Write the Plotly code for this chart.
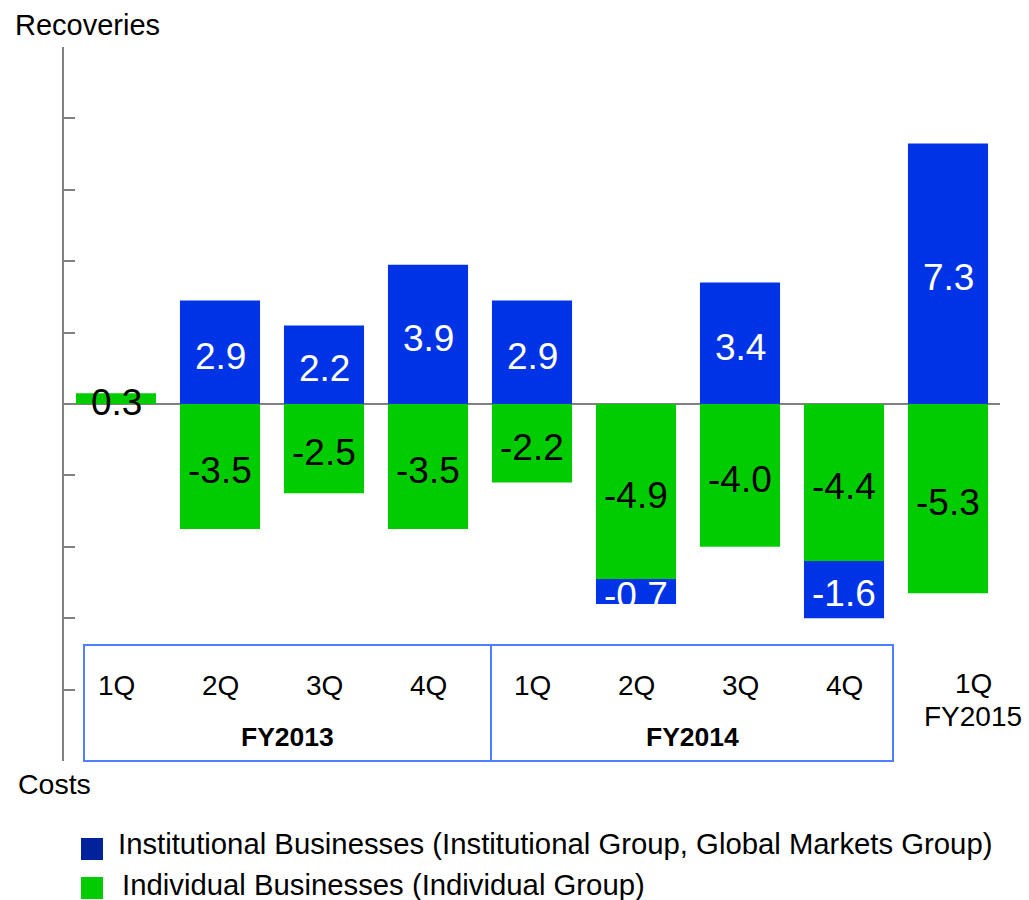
import plotly.graph_objects as go

# ---- data ----
categories = ["1Q FY2013", "2Q FY2013", "3Q FY2013", "4Q FY2013",
              "1Q FY2014", "2Q FY2014", "3Q FY2014", "4Q FY2014", "1Q FY2015"]
quarter_labels = ["1Q", "2Q", "3Q", "4Q", "1Q", "2Q", "3Q", "4Q", "1Q"]
institutional = [None, 2.9, 2.2, 3.9, 2.9, -0.7, 3.4, -1.6, 7.3]
individual = [0.3, -3.5, -2.5, -3.5, -2.2, -4.9, -4.0, -4.4, -5.3]
fiscal_years = ["FY2013", "FY2014", "FY2015"]
legend_names = ["Institutional Businesses (Institutional Group, Global Markets Group)",
                "Individual Businesses (Individual Group)"]

FONT = "Liberation Sans, Arial, sans-serif"
BLUE = "#0033E6"
BLUE_LEG = "#00229A"
GREEN = "#00CC00"
BOX = "#4F7FFF"
GRAY = "#808080"

W, H = 1029, 900
L, R, T, B = 64, 29, 47, 139
PW, PH = W - L - R, H - T - B


def px(x):
    return (x - L) / PW


def py(y):
    return (H - B - y) / PH


fig = go.Figure()

# stacking order: green first (nearest zero), blue afterwards
fig.add_trace(go.Bar(x=categories, y=individual, marker=dict(color=GREEN, line=dict(width=0)),
                     name=legend_names[1], showlegend=False, hoverinfo="skip"))
fig.add_trace(go.Bar(x=categories, y=institutional, marker=dict(color=BLUE, line=dict(width=0)),
                     name=legend_names[0], showlegend=False, hoverinfo="skip"))


def A(x, y, text, size, xref="paper", yref="paper", xanchor="center", color="black", **kw):
    d = dict(x=x, y=y, xref=xref, yref=yref, text=text, showarrow=False,
             font=dict(family=FONT, size=size, color=color),
             xanchor=xanchor, yanchor="middle")
    d.update(kw)
    return d


ann = []
# value labels at the centre of each stacked segment
for c, g, b in zip(categories, individual, institutional):
    ann.append(A(c, g / 2, f"{g:.1f}", 37, xref="x", yref="y", yshift=-4))
    if b is None:
        continue
    if b >= 0:
        base = g if g > 0 else 0
    else:
        base = g if g < 0 else 0
    ann.append(A(c, base + b / 2, f"{b:.1f}", 37, xref="x", yref="y", color="white", yshift=-4))

shapes = []
# category box
x0, x1, xm = px(84), px(893), px(491)
y0, y1 = py(761), py(645)
shapes.append(dict(type="rect", xref="paper", yref="paper", x0=x0, x1=x1, y0=y0, y1=y1,
                   line=dict(color=BOX, width=2), layer="above"))
shapes.append(dict(type="line", xref="paper", yref="paper", x0=xm, x1=xm, y0=y0, y1=y1,
                   line=dict(color=BOX, width=2), layer="above"))
# legend squares
shapes.append(dict(type="rect", xref="paper", yref="paper", x0=px(81), x1=px(103),
                   y0=py(860), y1=py(838), fillcolor=BLUE_LEG, line=dict(width=0)))
shapes.append(dict(type="rect", xref="paper", yref="paper", x0=px(81), x1=px(103),
                   y0=py(899), y1=py(877), fillcolor=GREEN, line=dict(width=0)))

for i, q in enumerate(quarter_labels[:-1]):
    ann.append(A(categories[i], py(685), q, 28, xref="x"))
ann.append(A(categories[-1], py(683), quarter_labels[-1], 28, xref="x", xshift=25))
ann.append(A(categories[-1], py(716), fiscal_years[2], 28, xref="x", xshift=25))
ann.append(A((x0 + xm) / 2, py(737), f"<b>{fiscal_years[0]}</b>", 26.5))
ann.append(A((xm + x1) / 2, py(737), f"<b>{fiscal_years[1]}</b>", 26.5))
ann.append(A(px(87.5), py(25), "Recoveries", 29))
ann.append(A(px(54.5), py(784), "Costs", 28.5))
ann.append(A(px(116), py(843), legend_names[0], 29.3, xanchor="left"))
ann.append(A(px(120), py(884), legend_names[1], 29.3, xanchor="left"))

fig.update_layout(
    width=W, height=H,
    margin=dict(l=L, r=R, t=T, b=B, pad=0),
    paper_bgcolor="white", plot_bgcolor="white",
    barmode="relative", bargap=0.23,
    showlegend=False,
    shapes=shapes, annotations=ann,
    xaxis=dict(type="category", showticklabels=False, ticks="", showline=False, showgrid=False,
               zeroline=False, range=[-0.5, len(categories) - 0.5]),
    yaxis=dict(range=[-10, 10], tick0=-10, dtick=2, showticklabels=False, ticks="inside",
               ticklen=11, tickwidth=2, tickcolor=GRAY, showline=True, linecolor=GRAY, linewidth=2,
               showgrid=False, zeroline=True, zerolinecolor=GRAY, zerolinewidth=2),
)

fig.write_html("out.html", config={"displayModeBar": False},
               post_script="document.body.style.margin='0px';")
